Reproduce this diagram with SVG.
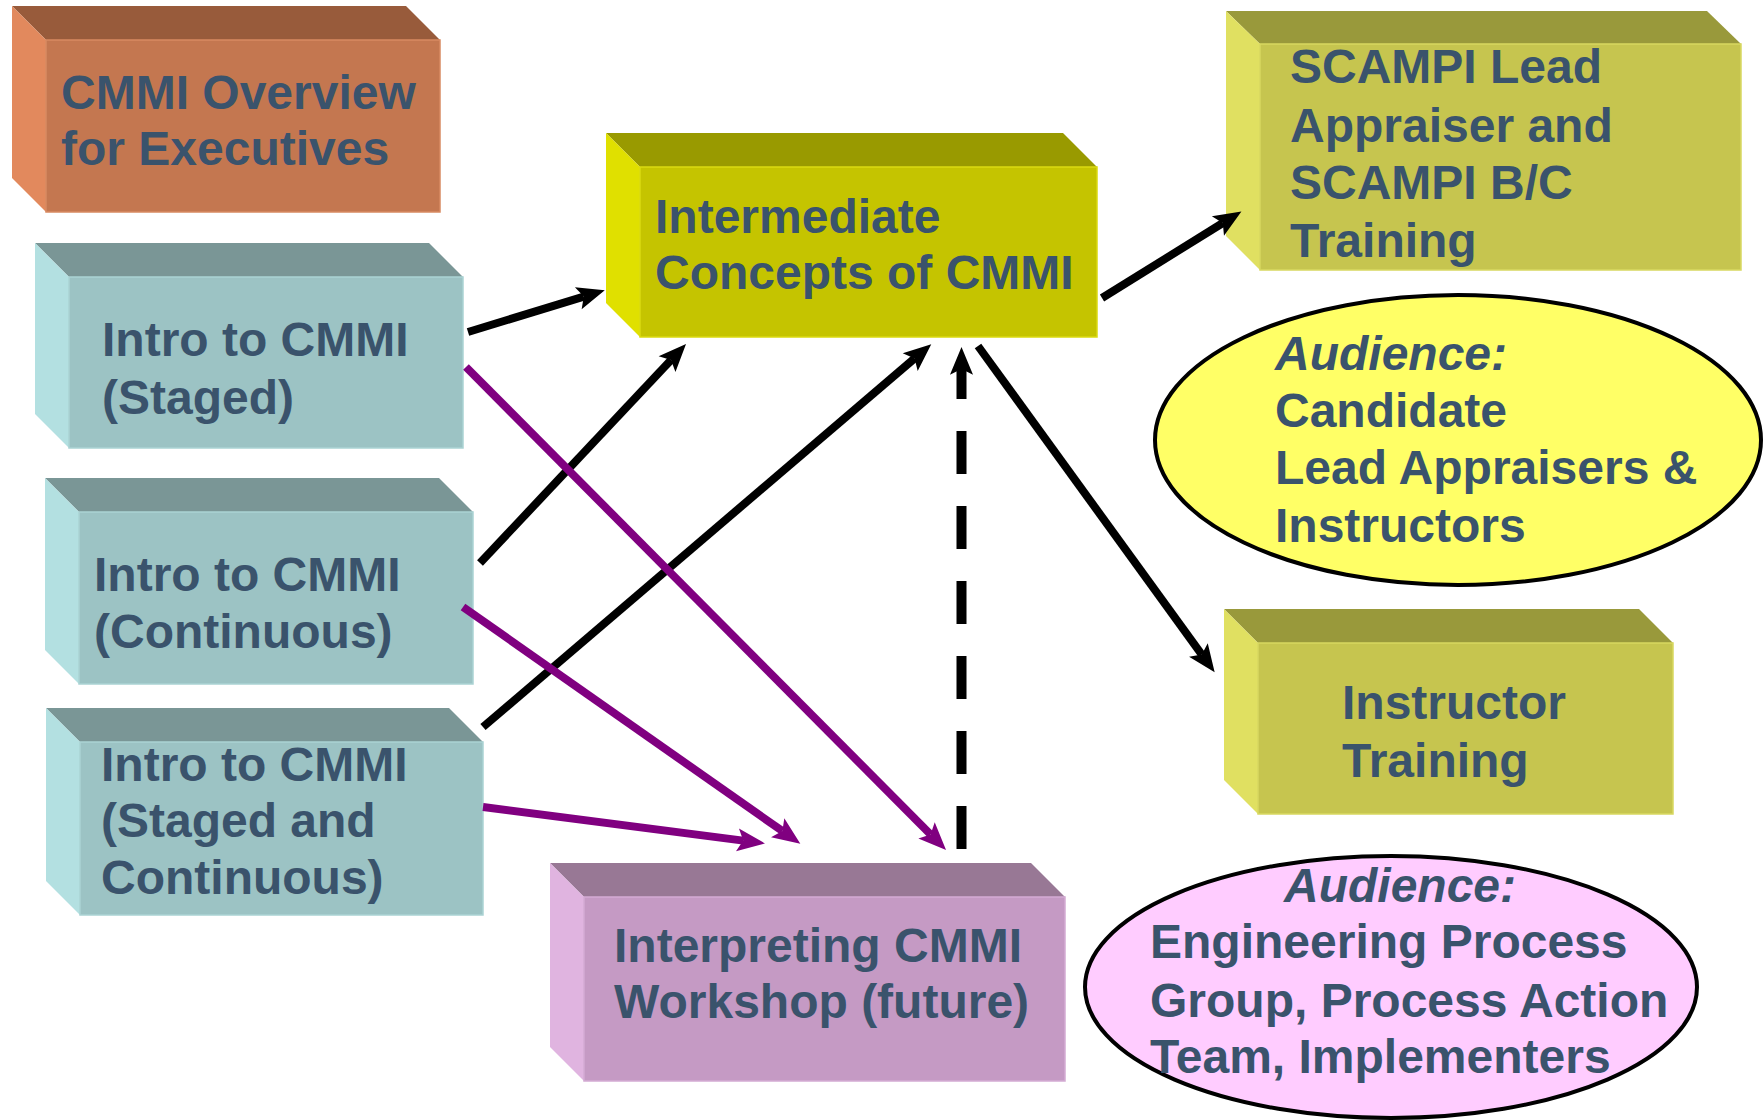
<svg xmlns="http://www.w3.org/2000/svg" width="1763" height="1120" viewBox="0 0 1763 1120">
<style>
text{font-family:"Liberation Sans",Arial,sans-serif;font-weight:bold;font-size:48px;fill:#3A536C}
.it{font-style:italic}
.c{stroke:#000;stroke-width:8;fill:none}
.p{stroke:#800080;stroke-width:8;fill:none}
.d{stroke:#000;stroke-width:10;fill:none;stroke-dasharray:43 32}
.or .f{fill:#C47750;stroke:#D88A62;stroke-width:1.5}.or .t{fill:#985B3B}.or .l{fill:#E2895D}
.ye .f{fill:#C5C400;stroke:#DADA10;stroke-width:1.5}.ye .t{fill:#999A00}.ye .l{fill:#E0E000}
.ol .f{fill:#C6C54F;stroke:#D8D860;stroke-width:1.5}.ol .t{fill:#99993B}.ol .l{fill:#E0E061}
.te .f{fill:#9CC3C4;stroke:#ABD3D4;stroke-width:1.5}.te .t{fill:#7A9696}.te .l{fill:#B3E0E1}
.pk .f{fill:#C59AC4;stroke:#D3ABD3;stroke-width:1.5}.pk .t{fill:#987895}.pk .l{fill:#E0B4E0}
</style>
<defs>
<marker id="ab" markerUnits="userSpaceOnUse" markerWidth="30" markerHeight="30" viewBox="0 -12 26 24" refX="5" refY="0" orient="auto" overflow="visible"><path d="M0,-10 L24,0 L0,10 L5,0 Z" fill="#000"/></marker>
<marker id="ap" markerUnits="userSpaceOnUse" markerWidth="30" markerHeight="30" viewBox="0 -12 26 24" refX="5" refY="0" orient="auto" overflow="visible"><path d="M0,-10 L24,0 L0,10 L5,0 Z" fill="#800080"/></marker>
</defs>

<g id="overview" class="or">
<polygon class="t" points="12,6 406,6 440,40 46,40"/>
<polygon class="l" points="12,6 46,40 46,212 12,178"/>
<rect class="f" x="46" y="40" width="394" height="172"/>
<text x="61" y="109">CMMI Overview</text>
<text x="61" y="165">for Executives</text>
</g>

<g id="intermediate" class="ye">
<polygon class="t" points="606,133 1063,133 1097,167 640,167"/>
<polygon class="l" points="606,133 640,167 640,337 606,303"/>
<rect class="f" x="640" y="167" width="457" height="170"/>
<text x="655" y="233">Intermediate</text>
<text x="655" y="289">Concepts of CMMI</text>
</g>

<g id="scampi" class="ol">
<polygon class="t" points="1226,11 1707,11 1741,44 1260,44"/>
<polygon class="l" points="1226,11 1260,44 1260,270 1226,236"/>
<rect class="f" x="1260" y="44" width="481" height="226"/>
<text x="1290" y="83">SCAMPI Lead</text>
<text x="1290" y="142">Appraiser and</text>
<text x="1290" y="199">SCAMPI B/C</text>
<text x="1290" y="257">Training</text>
</g>

<g id="intro-staged" class="te">
<polygon class="t" points="35,243 429,243 463,277 69,277"/>
<polygon class="l" points="35,243 69,277 69,448 35,414"/>
<rect class="f" x="69" y="277" width="394" height="171"/>
<text x="102" y="356">Intro to CMMI</text>
<text x="102" y="414">(Staged)</text>
</g>

<g id="intro-continuous" class="te">
<polygon class="t" points="45,478 439,478 473,512 79,512"/>
<polygon class="l" points="45,478 79,512 79,684 45,650"/>
<rect class="f" x="79" y="512" width="394" height="172"/>
<text x="94" y="591">Intro to CMMI</text>
<text x="94" y="648">(Continuous)</text>
</g>

<g id="intro-both" class="te">
<polygon class="t" points="46,708 449,708 483,742 80,742"/>
<polygon class="l" points="46,708 80,742 80,915 46,881"/>
<rect class="f" x="80" y="742" width="403" height="173"/>
<text x="101" y="781">Intro to CMMI</text>
<text x="101" y="837">(Staged and</text>
<text x="101" y="894">Continuous)</text>
</g>

<g id="interpreting" class="pk">
<polygon class="t" points="550,863 1031,863 1065,897 584,897"/>
<polygon class="l" points="550,863 584,897 584,1081 550,1047"/>
<rect class="f" x="584" y="897" width="481" height="184"/>
<text x="614" y="962">Interpreting CMMI</text>
<text x="614" y="1018">Workshop (future)</text>
</g>

<g id="instructor" class="ol">
<polygon class="t" points="1224,609 1639,609 1673,643 1258,643"/>
<polygon class="l" points="1224,609 1258,643 1258,814 1224,780"/>
<rect class="f" x="1258" y="643" width="415" height="171"/>
<text x="1342" y="719">Instructor</text>
<text x="1342" y="777">Training</text>
</g>

<g id="audience-lead">
<ellipse cx="1458" cy="440" rx="303" ry="145" fill="#FFFF66" stroke="#000" stroke-width="4"/>
<text class="it" x="1275" y="370">Audience:</text>
<text x="1275" y="427">Candidate</text>
<text x="1275" y="484">Lead Appraisers &amp;</text>
<text x="1275" y="542">Instructors</text>
</g>

<g id="audience-epg">
<ellipse cx="1391" cy="987" rx="306" ry="131" fill="#FFCCFF" stroke="#000" stroke-width="4"/>
<text class="it" x="1284" y="902">Audience:</text>
<text x="1150" y="958">Engineering Process</text>
<text x="1150" y="1017">Group, Process Action</text>
<text x="1150" y="1073">Team, Implementers</text>
</g>

<g id="connectors">
<line class="c" x1="468" y1="332" x2="583.8" y2="296.6" marker-end="url(#ab)"/>
<line class="c" x1="480" y1="563" x2="671" y2="359.9" marker-end="url(#ab)"/>
<line class="c" x1="483" y1="727" x2="914.6" y2="358.4" marker-end="url(#ab)"/>
<line class="d" x1="961.5" y1="849" x2="961.5" y2="369" marker-end="url(#ab)"/>
<line class="c" x1="1102" y1="298" x2="1222.8" y2="223" marker-end="url(#ab)"/>
<line class="c" x1="978" y1="346" x2="1201.8" y2="654.6" marker-end="url(#ab)"/>
<line class="p" x1="466" y1="367" x2="930.6" y2="834.5" marker-end="url(#ap)"/>
<line class="p" x1="463" y1="607" x2="782.4" y2="831.1" marker-end="url(#ap)"/>
<line class="p" x1="483" y1="807" x2="743.2" y2="840.6" marker-end="url(#ap)"/>
</g>
</svg>
